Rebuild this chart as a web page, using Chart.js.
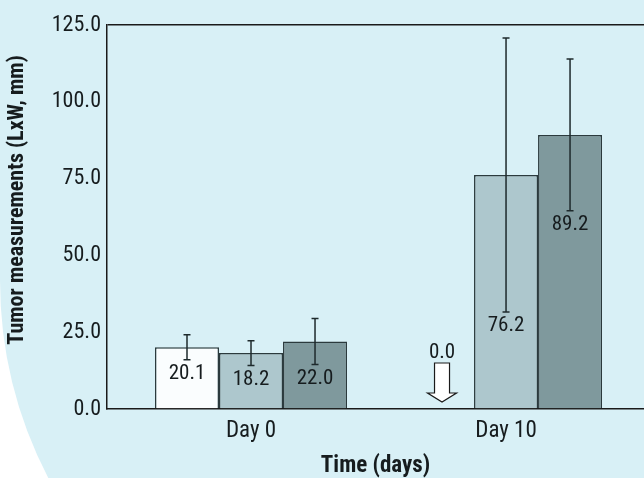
<!DOCTYPE html>
<html>
<head>
<meta charset="utf-8">
<script src="https://cdn.jsdelivr.net/npm/chart.js@4"></script>
<style>
  html, body { margin: 0; padding: 0; background: #ffffff; }
  #wrap { width: 644px; height: 478px; position: relative; }
</style>
</head>
<body>
<div id="wrap"><canvas id="chart" width="644" height="478"></canvas></div>
<script>
// Tumour size per group at each time point (mean and error, LxW in mm)
const categories = ['Day 0', 'Day 10'];
const groupA = [20.1, 0.0];
const groupAErr = [4.1, 0.0];
const groupB = [18.2, 76.2];
const groupBErr = [4.0, 44.6];
const groupC = [22.0, 89.2];
const groupCErr = [7.5, 24.7];
const yTickValues = [0, 25, 50, 75, 100, 125];

const FONT = "'Roboto Condensed', 'DejaVu Sans Condensed', sans-serif";
const INK = '#161c1e';

Chart.defaults.font.family = FONT;
Chart.defaults.color = INK;

function toPoints(values) {
  return values.map((v, i) => ({ x: i, y: v }));
}

// Page backdrop: pale blue panel with a rounded lower-left corner
const backdrop = {
  id: 'backdrop',
  beforeDraw(chart) {
    const { ctx, width, height } = chart;
    ctx.save();
    ctx.fillStyle = '#ffffff';
    ctx.fillRect(0, 0, width, height);
    const r = 430, cx = 430, cy = 280;
    const dy = height - cy;
    const xb = cx - Math.sqrt(r * r - dy * dy);
    ctx.beginPath();
    ctx.moveTo(0, 0);
    ctx.lineTo(width, 0);
    ctx.lineTo(width, height);
    ctx.lineTo(xb, height);
    ctx.arc(cx, cy, r, Math.atan2(dy, xb - cx), Math.PI, false);
    ctx.closePath();
    ctx.fillStyle = '#d8f0f6';
    ctx.fill();
    ctx.restore();
  }
};

// Error bars, value labels and the zero marker arrow
const annotations = {
  id: 'annotations',
  afterDatasetsDraw(chart) {
    const { ctx } = chart;
    const yScale = chart.scales.y;
    ctx.save();
    chart.data.datasets.forEach((ds, di) => {
      const meta = chart.getDatasetMeta(di);
      meta.data.forEach((bar, i) => {
        const v = ds.data[i].y;
        const e = ds.errors[i];
        const x = bar.x;
        const label = v.toFixed(1);
        ctx.fillStyle = INK;
        ctx.font = "21px " + FONT;
        ctx.textAlign = 'center';
        ctx.textBaseline = 'middle';
        if (v === 0) {
          const base = yScale.getPixelForValue(0);
          ctx.fillText(label, x, base - 56);
          // downward outline arrow
          ctx.beginPath();
          ctx.moveTo(x - 7.5, base - 46);
          ctx.lineTo(x + 7.5, base - 46);
          ctx.lineTo(x + 7.5, base - 16);
          ctx.lineTo(x + 14.5, base - 16);
          ctx.lineTo(x, base - 7);
          ctx.lineTo(x - 14.5, base - 16);
          ctx.lineTo(x - 7.5, base - 16);
          ctx.closePath();
          ctx.fillStyle = '#ffffff';
          ctx.fill();
          ctx.strokeStyle = '#1a1a1a';
          ctx.lineWidth = 1.2;
          ctx.stroke();
          return;
        }
        const yHi = yScale.getPixelForValue(v + e);
        const yLo = yScale.getPixelForValue(v - e);
        ctx.strokeStyle = '#1e2a2c';
        ctx.lineWidth = 1.5;
        ctx.beginPath();
        ctx.moveTo(x, yHi);
        ctx.lineTo(x, yLo);
        ctx.moveTo(x - 3.5, yHi);
        ctx.lineTo(x + 3.5, yHi);
        ctx.moveTo(x - 3.5, yLo);
        ctx.lineTo(x + 3.5, yLo);
        ctx.stroke();
        ctx.fillStyle = INK;
        ctx.fillText(label, x, yLo + 14);
      });
    });
    ctx.restore();
  }
};

// Rotated y-axis title
const yTitle = {
  id: 'yTitle',
  afterDraw(chart) {
    const { ctx } = chart;
    ctx.save();
    ctx.translate(17, 200);
    ctx.rotate(-Math.PI / 2);
    ctx.font = "bold 22px " + FONT;
    ctx.fillStyle = INK;
    ctx.textAlign = 'center';
    ctx.textBaseline = 'middle';
    ctx.fillText('Tumor measurements (LxW, mm)', 0, 0);
    ctx.restore();
  }
};

const barBorder = '#2b3a3d';

new Chart(document.getElementById('chart'), {
  type: 'bar',
  data: {
    datasets: [
      { data: toPoints(groupA), errors: groupAErr, backgroundColor: '#fafdfe', borderColor: barBorder, borderWidth: 1.5 },
      { data: toPoints(groupB), errors: groupBErr, backgroundColor: '#adc7cd', borderColor: barBorder, borderWidth: 1.5 },
      { data: toPoints(groupC), errors: groupCErr, backgroundColor: '#7f999d', borderColor: barBorder, borderWidth: 1.5 }
    ]
  },
  options: {
    responsive: false,
    devicePixelRatio: 1,
    animation: false,
    layout: { padding: { top: 25, right: 0, bottom: 0, left: 0 } },
    categoryPercentage: 0.753,
    barPercentage: 1.0,
    plugins: { legend: { display: false }, tooltip: { enabled: false } },
    scales: {
      x: {
        type: 'linear',
        offset: false,
        bounds: 'data',
        min: -0.5647,
        max: 1.541,
        afterBuildTicks: s => { s.ticks = categories.map((_, i) => ({ value: i })); },
        afterFit: s => { s.height = 69; },
        ticks: {
          callback: v => categories[v],
          font: { size: 23 },
          color: INK,
          padding: 8,
          autoSkip: false,
          maxRotation: 0
        },
        grid: { display: false, drawTicks: false, offset: false },
        border: { color: '#1a1a1a', width: 1.5 },
        title: {
          display: true,
          text: 'Time (days)',
          font: { size: 23, weight: 'bold', lineHeight: 1.0 },
          color: INK,
          padding: { top: 0, bottom: 0 }
        }
      },
      y: {
        min: 0,
        max: 125,
        afterBuildTicks: s => { s.ticks = yTickValues.map(v => ({ value: v })); },
        afterFit: s => { s.width = 107; },
        ticks: {
          callback: v => v.toFixed(1),
          font: { size: 22 },
          color: INK,
          padding: 6
        },
        grid: {
          drawTicks: false,
          lineWidth: 1.5,
          color: c => (c.tick && c.tick.value === 125 ? '#1a1a1a' : 'rgba(0,0,0,0)')
        },
        border: { color: '#1a1a1a', width: 1.5 }
      }
    }
  },
  plugins: [backdrop, annotations, yTitle]
});
</script>
</body>
</html>
